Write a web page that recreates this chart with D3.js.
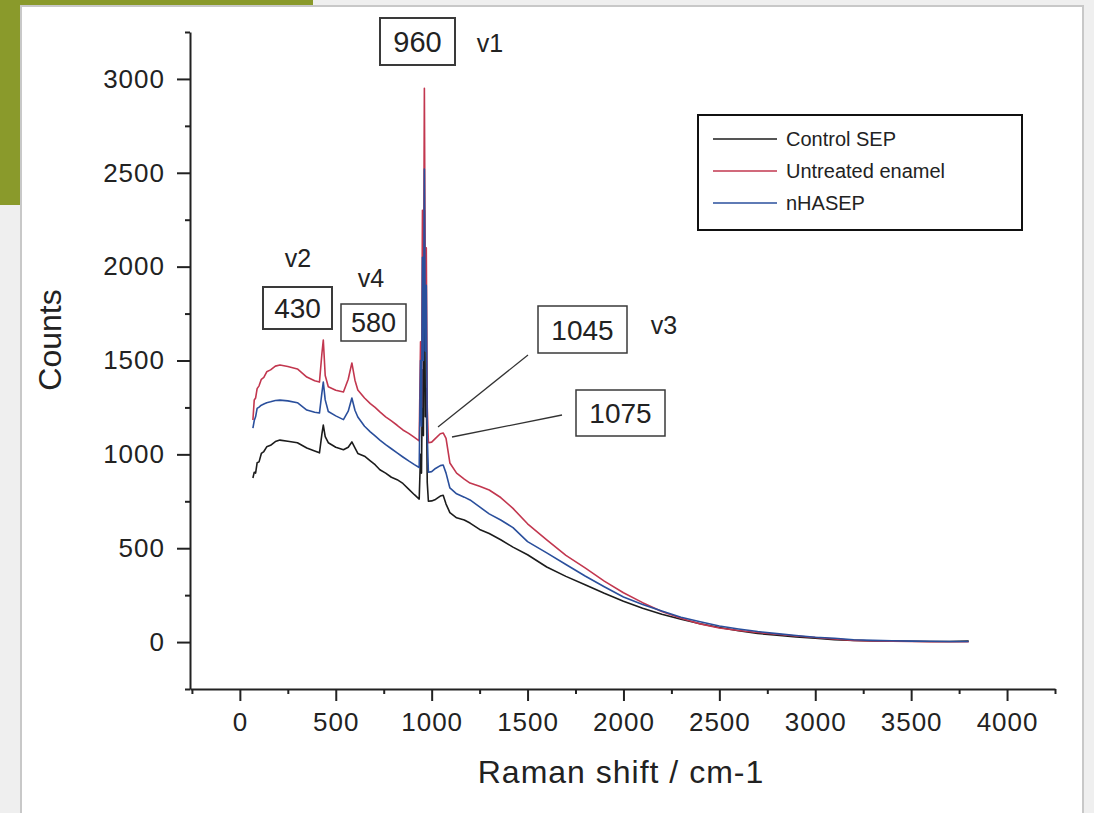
<!DOCTYPE html>
<html>
<head>
<meta charset="utf-8">
<script src="https://cdn.jsdelivr.net/npm/d3@7"></script>
<style>
  body { margin: 0; background: #efefef; }
  text { font-family: "Liberation Sans", Arial, sans-serif; fill: #222; }
</style>
</head>
<body>
<div class="canvas"></div>
<script>
// RAMAN SHIFT (cm-1) - shared by the three spectra
const shift = [68, 75, 82, 90, 100, 112, 125, 140, 160, 185,
  209, 250, 300, 349, 390, 415, 428, 435, 445, 461,
  500, 540, 565, 584, 600, 615, 650, 680, 705, 730,
  760, 790, 820, 850, 880, 910, 935, 942, 947, 952,
  957, 962, 967, 972, 977, 983, 1000, 1020, 1045, 1060,
  1075, 1095, 1130, 1170, 1200, 1250, 1300, 1360, 1424, 1500,
  1600, 1700, 1800, 1900, 2000, 2100, 2200, 2300, 2400, 2500,
  2600, 2700, 2800, 2900, 3000, 3100, 3200, 3300, 3400, 3500,
  3600, 3700, 3800];

// COUNTS
const controlSEP = [874, 905, 900, 955, 960, 1005, 1015, 1040, 1048, 1068,
  1076, 1070, 1062, 1034, 1018, 1008, 1110, 1156, 1095, 1062,
  1038, 1025, 1038, 1066, 1035, 1005, 990, 965, 945, 918,
  900, 878, 865, 845, 815, 785, 762, 1000, 900, 1450,
  1100, 2300, 1200, 1350, 850, 750, 752, 760, 778, 782,
  735, 690, 662, 650, 634, 600, 578, 545, 506, 465,
  400, 350, 305, 260, 218, 180, 148, 122, 98, 78,
  60, 46, 36, 27, 20, 13, 9, 6, 5, 4,
  3, 3, 5];

const untreated = [1183, 1290, 1300, 1350, 1365, 1400, 1410, 1440, 1450, 1470,
  1476, 1468, 1455, 1412, 1392, 1385, 1540, 1609, 1420, 1360,
  1342, 1332, 1400, 1487, 1395, 1343, 1300, 1270, 1250, 1226,
  1200, 1178, 1155, 1130, 1112, 1090, 1072, 1600, 1250, 2300,
  1700, 2950, 1800, 2100, 1250, 1062, 1065, 1085, 1110, 1114,
  1085, 954, 900, 868, 847, 830, 810, 770, 712, 630,
  545, 462, 395, 325, 263, 210, 163, 127, 97, 75,
  62, 51, 42, 32, 24, 16, 9, 6, 4, 3,
  2, 2, 2];

const nHASEP = [1140, 1180, 1200, 1245, 1252, 1262, 1268, 1275, 1280, 1287,
  1289, 1285, 1275, 1236, 1224, 1220, 1330, 1385, 1290, 1228,
  1205, 1185, 1230, 1300, 1235, 1199, 1150, 1120, 1098, 1076,
  1052, 1030, 1008, 986, 965, 945, 930, 1500, 1150, 2050,
  1500, 2520, 1550, 1900, 1100, 905, 908, 925, 940, 943,
  900, 821, 790, 772, 757, 720, 683, 650, 610, 535,
  475, 413, 352, 295, 240, 200, 165, 132, 108, 86,
  70, 56, 45, 35, 26, 20, 12, 9, 7, 5,
  4, 3, 3];

const seriesNames = ["Control SEP", "Untreated enamel", "nHASEP"];
const seriesColors = ["#1c1c1c", "#c2374f", "#2a4f9c"];

// TICKS
const xTicks = [0, 500, 1000, 1500, 2000, 2500, 3000, 3500, 4000];
const xMinor = [-250, 250, 750, 1250, 1750, 2250, 2750, 3250, 3750, 4250];
const yTicks = [0, 500, 1000, 1500, 2000, 2500, 3000];
const yMinor = [-250, 250, 750, 1250, 1750, 2250, 2750, 3250];

// PEAK LABELS
const peakLabels = ["960", "430", "580", "1045", "1075"];
const bandLabels = ["v1", "v2", "v4", "v3"];

const svg = d3.select(".canvas")
  .append("svg")
    .attr("width", 1094)
    .attr("height", 813)
    .style("display", "block");

// PAGE BACKGROUND - green block + white panel
svg.append("rect")
  .attr("x", 0).attr("y", 0)
  .attr("width", 313).attr("height", 205)
  .attr("fill", "#8a9a2b");

svg.append("rect")
  .attr("x", 21).attr("y", 6)
  .attr("width", 1062).attr("height", 830)
  .attr("fill", "#fff")
  .attr("stroke", "#c8c8c8")
  .attr("stroke-width", 2);

// SCALES
const x = d3.scaleLinear().domain([-260, 4250]).range([190, 1055]);
const y = d3.scaleLinear().domain([-250, 3250]).range([689, 32]);

// AXES
svg.append("g")
  .attr("transform", "translate(0, 689)")
  .call(d3.axisBottom(x).tickValues(xTicks).tickSize(12).tickSizeOuter(0).tickPadding(12).tickFormat(d3.format("d")));

svg.append("g")
  .attr("transform", "translate(0, 689)")
  .call(d3.axisBottom(x).tickValues(xMinor).tickSize(5).tickSizeOuter(0).tickFormat(""))
  .select(".domain").remove();

svg.append("g")
  .attr("transform", "translate(190, 0)")
  .call(d3.axisLeft(y).tickValues(yTicks).tickSize(13).tickSizeOuter(0).tickPadding(12).tickFormat(d3.format("d")));

svg.append("g")
  .attr("transform", "translate(190, 0)")
  .call(d3.axisLeft(y).tickValues(yMinor).tickSize(5).tickSizeOuter(0).tickFormat(""))
  .select(".domain").remove();

svg.selectAll(".tick line, .domain")
  .attr("stroke", "#222")
  .attr("stroke-width", 2);

svg.selectAll(".tick text")
  .style("font-size", "26px")
  .style("letter-spacing", "1px")
  .attr("fill", "#222");

// AXIS TITLES
svg.append("text")
  .attr("transform", "translate(61, 340) rotate(-90)")
  .attr("text-anchor", "middle")
  .style("font-size", "32px")
  .text("Counts");

svg.append("text")
  .attr("x", 621)
  .attr("y", 783)
  .attr("text-anchor", "middle")
  .style("font-size", "32px")
  .style("letter-spacing", "1px")
  .text("Raman shift / cm-1");

// LINES - blue drawn last, it sits on top at the 960 spike
const line = d3.line()
  .x((d, i) => x(shift[i]))
  .y(d => y(d));

const allSeries = [controlSEP, untreated, nHASEP];

svg.append("g")
  .selectAll("path")
  .data(allSeries)
  .enter()
    .append("path")
    .attr("d", d => line(d))
    .attr("fill", "none")
    .attr("stroke", (d, i) => seriesColors[i])
    .attr("stroke-width", 1.6)
    .attr("stroke-linejoin", "round");

// LEGEND
const legend = svg.append("g");

legend.append("rect")
  .attr("x", 698).attr("y", 115)
  .attr("width", 324).attr("height", 115)
  .attr("fill", "none")
  .attr("stroke", "#111")
  .attr("stroke-width", 2);

const legendRows = legend.selectAll("g.row")
  .data(seriesNames)
  .enter()
    .append("g")
    .attr("class", "row")
    .attr("transform", (d, i) => `translate(0, ${139 + i * 32})`);

legendRows.append("line")
  .attr("x1", 713).attr("x2", 777)
  .attr("stroke", (d, i) => seriesColors[i])
  .attr("stroke-width", 1.6);

legendRows.append("text")
  .attr("x", 786)
  .attr("dy", "0.35em")
  .style("font-size", "20px")
  .text(d => d);

// PEAK BOXES
const boxes = [
  { label: peakLabels[0], x: 380, y: 18, w: 75, h: 47, size: 29, stroke: 2 },
  { label: peakLabels[1], x: 263, y: 287, w: 69, h: 42, size: 28, stroke: 2 },
  { label: peakLabels[2], x: 341, y: 304, w: 65, h: 37, size: 27, stroke: 1.5 },
  { label: peakLabels[3], x: 538, y: 306, w: 89, h: 47, size: 28, stroke: 1.5 },
  { label: peakLabels[4], x: 576, y: 390, w: 89, h: 46, size: 28, stroke: 1.5 }
];

const boxGroups = svg.selectAll("g.peak")
  .data(boxes)
  .enter()
    .append("g")
    .attr("class", "peak");

boxGroups.append("rect")
  .attr("x", d => d.x).attr("y", d => d.y)
  .attr("width", d => d.w).attr("height", d => d.h)
  .attr("fill", "#fff")
  .attr("stroke", "#3a3a3a")
  .attr("stroke-width", d => d.stroke);

boxGroups.append("text")
  .attr("x", d => d.x + d.w / 2)
  .attr("y", d => d.y + d.h / 2)
  .attr("dy", "0.36em")
  .attr("text-anchor", "middle")
  .style("font-size", d => d.size + "px")
  .text(d => d.label);

// BAND NAMES
const bands = [
  { label: bandLabels[0], x: 490, y: 43 },
  { label: bandLabels[1], x: 298, y: 258 },
  { label: bandLabels[2], x: 371, y: 278 },
  { label: bandLabels[3], x: 664, y: 325 }
];

svg.selectAll("text.band")
  .data(bands)
  .enter()
    .append("text")
    .attr("class", "band")
    .attr("x", d => d.x)
    .attr("y", d => d.y)
    .attr("dy", "0.36em")
    .attr("text-anchor", "middle")
    .style("font-size", "25px")
    .text(d => d.label);

// LEADER LINES to 1045 / 1075
const leaders = [
  { x1: 528, y1: 355, x2: 438, y2: 427 },
  { x1: 562, y1: 415, x2: 452, y2: 437 }
];

svg.selectAll("line.leader")
  .data(leaders)
  .enter()
    .append("line")
    .attr("class", "leader")
    .attr("x1", d => d.x1).attr("y1", d => d.y1)
    .attr("x2", d => d.x2).attr("y2", d => d.y2)
    .attr("stroke", "#333")
    .attr("stroke-width", 1.3);
</script>
</body>
</html>
